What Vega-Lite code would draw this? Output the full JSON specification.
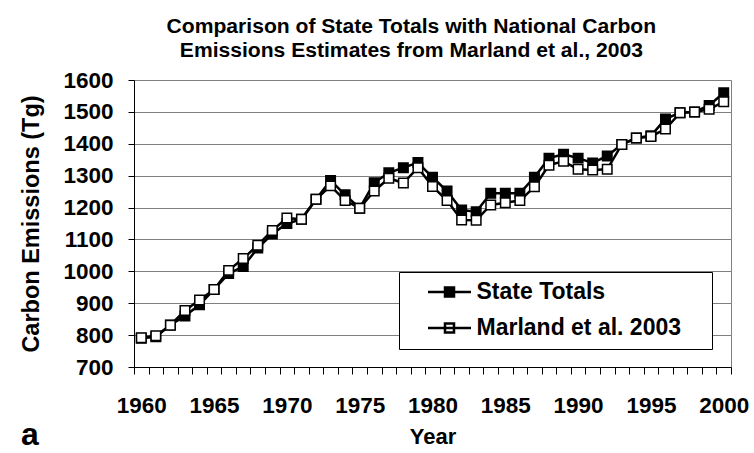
{
  "$schema": "https://vega.github.io/schema/vega-lite/v6.json",
  "background": "white",
  "padding": {"left": 19, "top": 16, "right": 10, "bottom": 5},
  "title": {
    "text": ["Comparison of State Totals with National Carbon", "Emissions Estimates from Marland et al., 2003"],
    "font": "Liberation Sans", "fontSize": 21.1, "fontWeight": "bold", "color": "black",
    "lineHeight": 24, "anchor": "middle", "offset": 7, "dx": 27
  },
  "config": {
    "font": "Liberation Sans",
    "view": {"stroke": "#808080", "strokeWidth": 1},
    "axis": {
      "domainColor": "black", "domainWidth": 1, "tickColor": "black", "tickWidth": 1,
      "labelFont": "Liberation Sans", "labelFontWeight": "bold", "labelFontSize": 22.5, "labelColor": "black",
      "titleFont": "Liberation Sans", "titleFontWeight": "bold", "titleFontSize": 22, "titleColor": "black"
    }
  },
  "vconcat": [
    {
      "width": 597,
      "height": 287,
      "title": {"text": "a", "orient": "bottom", "anchor": "start", "frame": "group", "dx": -113, "dy": -32, "font": "Liberation Sans", "fontSize": 32, "fontWeight": "bold", "color": "black"},
      "data": {
        "values": [
          {"year": 1960, "series": "State Totals", "value": 790},
          {"year": 1961, "series": "State Totals", "value": 795},
          {"year": 1962, "series": "State Totals", "value": 832},
          {"year": 1963, "series": "State Totals", "value": 860},
          {"year": 1964, "series": "State Totals", "value": 895},
          {"year": 1965, "series": "State Totals", "value": 943},
          {"year": 1966, "series": "State Totals", "value": 993},
          {"year": 1967, "series": "State Totals", "value": 1015},
          {"year": 1968, "series": "State Totals", "value": 1073},
          {"year": 1969, "series": "State Totals", "value": 1117},
          {"year": 1970, "series": "State Totals", "value": 1150},
          {"year": 1971, "series": "State Totals", "value": 1163},
          {"year": 1972, "series": "State Totals", "value": 1226},
          {"year": 1973, "series": "State Totals", "value": 1285},
          {"year": 1974, "series": "State Totals", "value": 1240},
          {"year": 1975, "series": "State Totals", "value": 1198},
          {"year": 1976, "series": "State Totals", "value": 1278},
          {"year": 1977, "series": "State Totals", "value": 1309},
          {"year": 1978, "series": "State Totals", "value": 1325},
          {"year": 1979, "series": "State Totals", "value": 1341},
          {"year": 1980, "series": "State Totals", "value": 1295},
          {"year": 1981, "series": "State Totals", "value": 1252},
          {"year": 1982, "series": "State Totals", "value": 1192},
          {"year": 1983, "series": "State Totals", "value": 1187},
          {"year": 1984, "series": "State Totals", "value": 1245},
          {"year": 1985, "series": "State Totals", "value": 1245},
          {"year": 1986, "series": "State Totals", "value": 1245},
          {"year": 1987, "series": "State Totals", "value": 1295},
          {"year": 1988, "series": "State Totals", "value": 1355},
          {"year": 1989, "series": "State Totals", "value": 1367},
          {"year": 1990, "series": "State Totals", "value": 1355},
          {"year": 1991, "series": "State Totals", "value": 1340},
          {"year": 1992, "series": "State Totals", "value": 1362},
          {"year": 1993, "series": "State Totals", "value": 1398},
          {"year": 1994, "series": "State Totals", "value": 1418},
          {"year": 1995, "series": "State Totals", "value": 1425},
          {"year": 1996, "series": "State Totals", "value": 1478},
          {"year": 1997, "series": "State Totals", "value": 1497},
          {"year": 1998, "series": "State Totals", "value": 1500},
          {"year": 1999, "series": "State Totals", "value": 1520},
          {"year": 2000, "series": "State Totals", "value": 1560},
          {"year": 1960, "series": "Marland et al. 2003", "value": 792},
          {"year": 1961, "series": "Marland et al. 2003", "value": 798},
          {"year": 1962, "series": "Marland et al. 2003", "value": 831},
          {"year": 1963, "series": "Marland et al. 2003", "value": 877},
          {"year": 1964, "series": "Marland et al. 2003", "value": 910},
          {"year": 1965, "series": "Marland et al. 2003", "value": 943},
          {"year": 1966, "series": "Marland et al. 2003", "value": 1003},
          {"year": 1967, "series": "Marland et al. 2003", "value": 1040},
          {"year": 1968, "series": "Marland et al. 2003", "value": 1082},
          {"year": 1969, "series": "Marland et al. 2003", "value": 1128},
          {"year": 1970, "series": "Marland et al. 2003", "value": 1167},
          {"year": 1971, "series": "Marland et al. 2003", "value": 1163},
          {"year": 1972, "series": "Marland et al. 2003", "value": 1226},
          {"year": 1973, "series": "Marland et al. 2003", "value": 1268},
          {"year": 1974, "series": "Marland et al. 2003", "value": 1222},
          {"year": 1975, "series": "Marland et al. 2003", "value": 1198},
          {"year": 1976, "series": "Marland et al. 2003", "value": 1252},
          {"year": 1977, "series": "Marland et al. 2003", "value": 1292},
          {"year": 1978, "series": "Marland et al. 2003", "value": 1277},
          {"year": 1979, "series": "Marland et al. 2003", "value": 1325},
          {"year": 1980, "series": "Marland et al. 2003", "value": 1266},
          {"year": 1981, "series": "Marland et al. 2003", "value": 1222},
          {"year": 1982, "series": "Marland et al. 2003", "value": 1161},
          {"year": 1983, "series": "Marland et al. 2003", "value": 1160},
          {"year": 1984, "series": "Marland et al. 2003", "value": 1208},
          {"year": 1985, "series": "Marland et al. 2003", "value": 1215},
          {"year": 1986, "series": "Marland et al. 2003", "value": 1222},
          {"year": 1987, "series": "Marland et al. 2003", "value": 1265},
          {"year": 1988, "series": "Marland et al. 2003", "value": 1333},
          {"year": 1989, "series": "Marland et al. 2003", "value": 1345},
          {"year": 1990, "series": "Marland et al. 2003", "value": 1320},
          {"year": 1991, "series": "Marland et al. 2003", "value": 1318},
          {"year": 1992, "series": "Marland et al. 2003", "value": 1320},
          {"year": 1993, "series": "Marland et al. 2003", "value": 1398},
          {"year": 1994, "series": "Marland et al. 2003", "value": 1418},
          {"year": 1995, "series": "Marland et al. 2003", "value": 1423},
          {"year": 1996, "series": "Marland et al. 2003", "value": 1446},
          {"year": 1997, "series": "Marland et al. 2003", "value": 1497},
          {"year": 1998, "series": "Marland et al. 2003", "value": 1500},
          {"year": 1999, "series": "Marland et al. 2003", "value": 1508},
          {"year": 2000, "series": "Marland et al. 2003", "value": 1532}
        ]
      },
      "encoding": {
        "x": {
          "field": "year", "type": "ordinal",
          "scale": {"type": "band", "paddingInner": 0, "paddingOuter": 0},
          "axis": {
            "title": "Year", "labelAngle": 0, "grid": false, "tickBand": "extent", "tickSize": 7,
            "labelPadding": 20, "titlePadding": 10,
            "labelExpr": "datum.value % 5 === 0 ? datum.label : ''"
          }
        },
        "y": {
          "field": "value", "type": "quantitative",
          "scale": {"domain": [700, 1600], "nice": false, "zero": false},
          "axis": {
            "title": "Carbon Emissions (Tg)", "format": "d", "titleFontSize": 23.5,
            "values": [700, 800, 900, 1000, 1100, 1200, 1300, 1400, 1500, 1600],
            "grid": true, "gridColor": "#808080", "gridWidth": 1,
            "tickSize": 6, "labelPadding": 15, "titlePadding": 19
          }
        }
      },
      "layer": [
        {
          "mark": {"type": "line", "strokeWidth": 2.5, "color": "black"},
          "encoding": {
            "detail": {"field": "series", "type": "nominal"}
          }
        },
        {
          "mark": {"type": "point", "shape": "square", "filled": true, "stroke": "black", "strokeWidth": 1.5, "size": 90, "opacity": 1},
          "encoding": {
            "fill": {
              "field": "series", "type": "nominal",
              "scale": {"domain": ["State Totals", "Marland et al. 2003"], "range": ["black", "white"]},
              "legend": {
                "title": null, "orient": "none", "legendX": 265, "legendY": 192,
                "symbolType": "M-2.15,0H2.15M-0.45,-0.45H0.45V0.45H-0.45ZM24.9,0", "symbolSize": 400,
                "symbolOffset": 30.5,
                "symbolStrokeColor": "black", "symbolStrokeWidth": 2.5,
                "labelFont": "Liberation Sans", "labelFontSize": 23, "labelFontWeight": "bold", "labelColor": "black",
                "labelLimit": 400, "labelOffset": 15.5, "strokeColor": "black", "fillColor": "white",
                "padding": 8.5, "rowPadding": 12
              }
            }
          }
        }
      ]
    }
  ]
}
